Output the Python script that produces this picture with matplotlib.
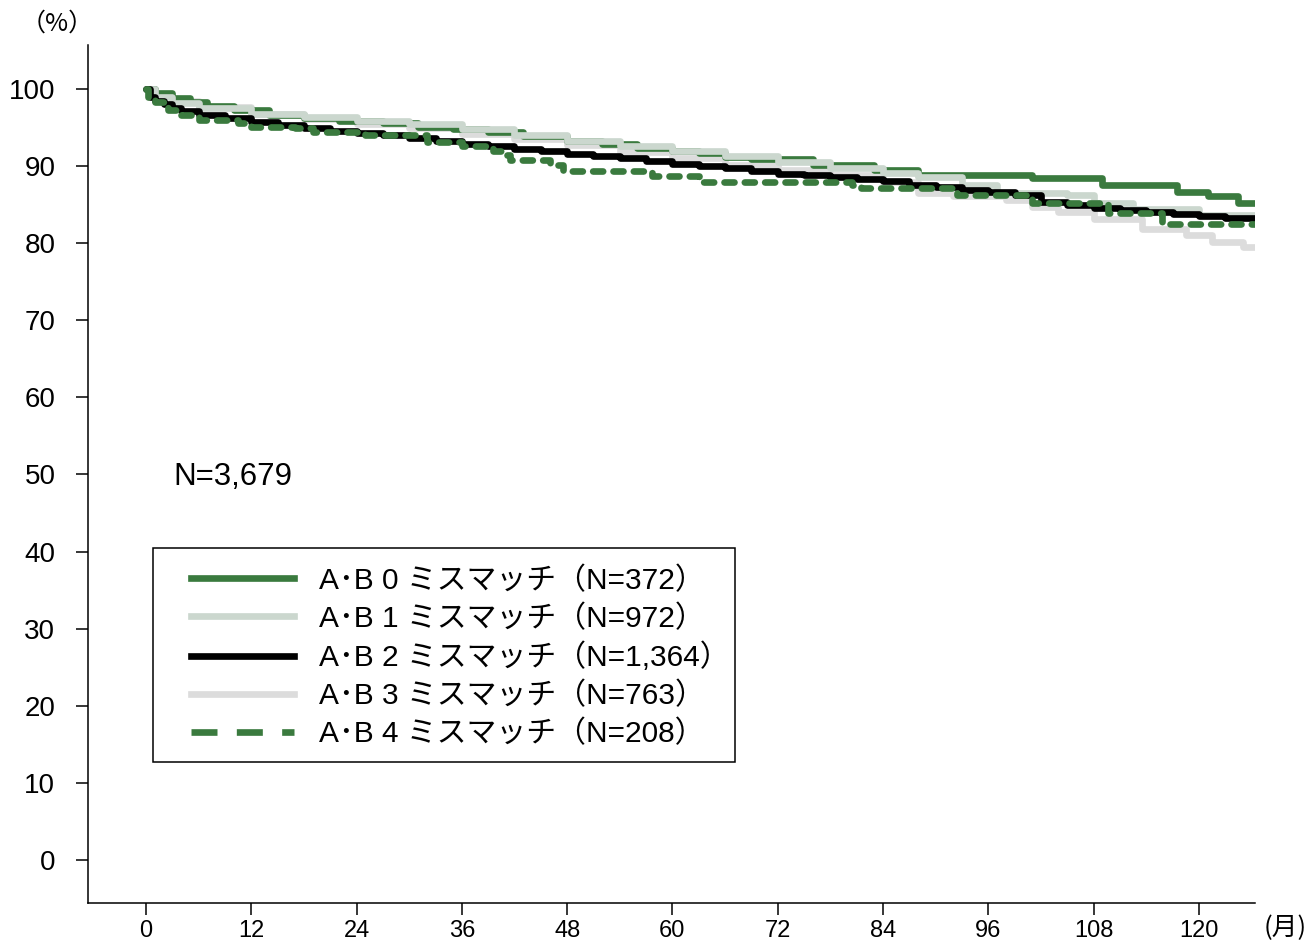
import matplotlib
matplotlib.use("Agg")
import matplotlib.pyplot as plt
from matplotlib import font_manager
from matplotlib.lines import Line2D
from matplotlib.patches import Rectangle

# ---- data ----
t0 = [0, 1, 3, 5, 7, 10, 14, 18, 22, 27, 31, 35, 39, 43, 48, 52, 56, 60, 63, 66, 69, 76, 83, 88, 101, 109, 117.5, 121, 124.5, 126.5]
s0 = [100, 99.5, 98.8, 98.3, 97.8, 97.3, 96.6, 96.2, 95.8, 95.6, 95.1, 94.8, 94.4, 93.9, 93.3, 92.8, 92.3, 91.9, 91.7, 91.2, 90.9, 90.1, 89.5, 88.8, 88.4, 87.5, 86.6, 86.1, 85.2, 85.2]

t1 = [0, 1, 3, 6, 12, 18, 24, 30, 36, 42, 48, 54, 60, 66, 72, 78, 84, 88, 93, 97, 105, 108, 112.5, 120, 126.5]
s1 = [100, 99, 98.2, 97.5, 96.8, 96.3, 95.8, 95.4, 94.8, 94.0, 93.3, 92.6, 92.0, 91.3, 90.5, 89.8, 89.1, 88.6, 87.5, 86.5, 86.2, 85.2, 84.4, 83.6, 83.6]

t2 = [0, 0.5, 1, 2, 3, 4, 6, 9, 12, 15, 18, 21, 24, 27, 30, 33, 36, 39, 42, 45, 48, 51, 54, 57, 60, 63, 66, 69, 72, 75, 78, 81, 84, 87, 90, 93, 96, 99, 102, 105, 108, 111, 114, 117, 120, 123, 126.5]
s2 = [100, 99, 98.5, 98.0, 97.5, 97.1, 96.6, 96.2, 95.7, 95.3, 95.0, 94.6, 94.3, 94.0, 93.7, 93.3, 92.9, 92.6, 92.2, 91.9, 91.6, 91.3, 91.0, 90.6, 90.3, 90.0, 89.7, 89.4, 89.0, 88.8, 88.6, 88.3, 88.0, 87.6, 87.3, 86.9, 86.6, 86.2, 85.4, 85.0, 84.6, 84.3, 84.0, 83.8, 83.5, 83.2, 82.8]

t3 = [0, 1, 3, 6, 12, 18, 24, 30, 36, 42, 48, 54, 60, 66, 72, 78, 84, 88, 92, 98, 101, 104, 108, 113.5, 118.5, 121.5, 125, 126.5]
s3 = [100, 99.2, 98.4, 97.6, 96.7, 96.1, 95.5, 95.0, 94.2, 93.5, 92.7, 91.8, 91.0, 90.2, 89.5, 88.8, 87.9, 86.5, 86.1, 85.6, 84.7, 84.0, 83.1, 81.8, 81.1, 80.2, 79.5, 79.5]

t4 = [0, 0.2, 1, 2.5, 4, 6, 10.5, 12, 17, 19, 25, 32, 36, 39.5, 40.5, 41.5, 46, 47.5, 57.7, 63, 80.5, 81.5, 92.4, 101, 109.7, 115.8, 126.5]
s4 = [100, 98.6, 98.3, 97.3, 96.6, 96.0, 95.6, 95.1, 94.9, 94.4, 94.0, 93.1, 92.6, 92.0, 91.4, 90.8, 90.1, 89.4, 88.7, 87.9, 87.5, 87.2, 86.3, 85.2, 83.9, 82.5, 82.5]

labels = ["A･B 0 ミスマッチ（N=372）", "A･B 1 ミスマッチ（N=972）", "A･B 2 ミスマッチ（N=1,364）",
          "A･B 3 ミスマッチ（N=763）", "A･B 4 ミスマッチ（N=208）"]
xticks = [0, 12, 24, 36, 48, 60, 72, 84, 96, 108, 120]
yticks = [0, 10, 20, 30, 40, 50, 60, 70, 80, 90, 100]

GREEN = "#3a7a3e"
GGREY = "#cbd7ce"
PGREY = "#dcdcdc"
BLACK = "#000000"

FAM = ["Liberation Sans", "Noto Sans CJK JP"]
available = {f.name for f in font_manager.fontManager.ttflist}
narrow = "Liberation Sans Narrow" if "Liberation Sans Narrow" in available else "Liberation Sans"

W, H = 1312, 941
fig = plt.figure(figsize=(W / 100, H / 100), dpi=100)
L, R, T, B = 88, 1255, 45, 903
ax = fig.add_axes([L / W, 1 - B / H, (R - L) / W, (B - T) / H])

lw = 4.8
kw = dict(where="post", lw=lw, solid_joinstyle="round", solid_capstyle="round")
ax.step(t3, s3, color=PGREY, zorder=2, **kw)
ax.step(t0, s0, color=GREEN, zorder=3, **kw)
ax.step(t1, s1, color=GGREY, zorder=4, **kw)
ax.step(t2, s2, color=BLACK, zorder=5, **kw)
ax.step(t4, s4, where="post", color=GREEN, lw=lw, zorder=6, dashes=(1.5, 1.55),
        dash_capstyle="round", dash_joinstyle="round")

ax.set_xlim(-6.61, 126.4)
ax.set_ylim(-5.58, 105.7)
ax.set_xticks(xticks)
ax.set_xticklabels([str(v) for v in xticks], family=narrow, fontsize=17)
ax.set_yticks(yticks)
ax.set_yticklabels([str(v) for v in yticks], family=FAM, fontsize=20)
ax.tick_params(axis="both", direction="out", length=8.5, width=1.1, color="black")
ax.tick_params(axis="x", pad=3.5)
ax.tick_params(axis="y", pad=15)
for sp in ["top", "right"]:
    ax.spines[sp].set_visible(False)
for sp in ["left", "bottom"]:
    ax.spines[sp].set_linewidth(1.1)

ax.text(3.1, 49.7, "N=3,679", family=FAM, fontsize=22.5, ha="left", va="center")
fig.text(57 / W, 1 - 24 / H, "（%）", family=["Noto Sans CJK JP"], fontsize=18, ha="center", va="center")
fig.text(1285 / W, 1 - 928 / H, "(月)", family=["Noto Sans CJK JP"], fontsize=18.5, ha="center", va="center")

handles = [
    Line2D([], [], color=GREEN, lw=lw),
    Line2D([], [], color=GGREY, lw=lw),
    Line2D([], [], color=BLACK, lw=lw),
    Line2D([], [], color=PGREY, lw=lw),
    Line2D([], [], color=GREEN, lw=lw, dashes=(3.9, 2.9)),
]
leg = fig.legend(handles, labels, loc="upper left", bbox_to_anchor=(191 / W, 1 - 566.5 / H),
                 frameon=False, borderpad=0, borderaxespad=0, handlelength=3.45,
                 handletextpad=0.85, labelspacing=0.32, prop={"family": FAM, "size": 21.5})
fig.add_artist(Rectangle((153 / W, 1 - 762 / H), (735 - 153) / W, (762 - 548) / H,
                         transform=fig.transFigure, fill=False, ec="black", lw=1.1, zorder=10))

fig.savefig("out.png", dpi=100)
